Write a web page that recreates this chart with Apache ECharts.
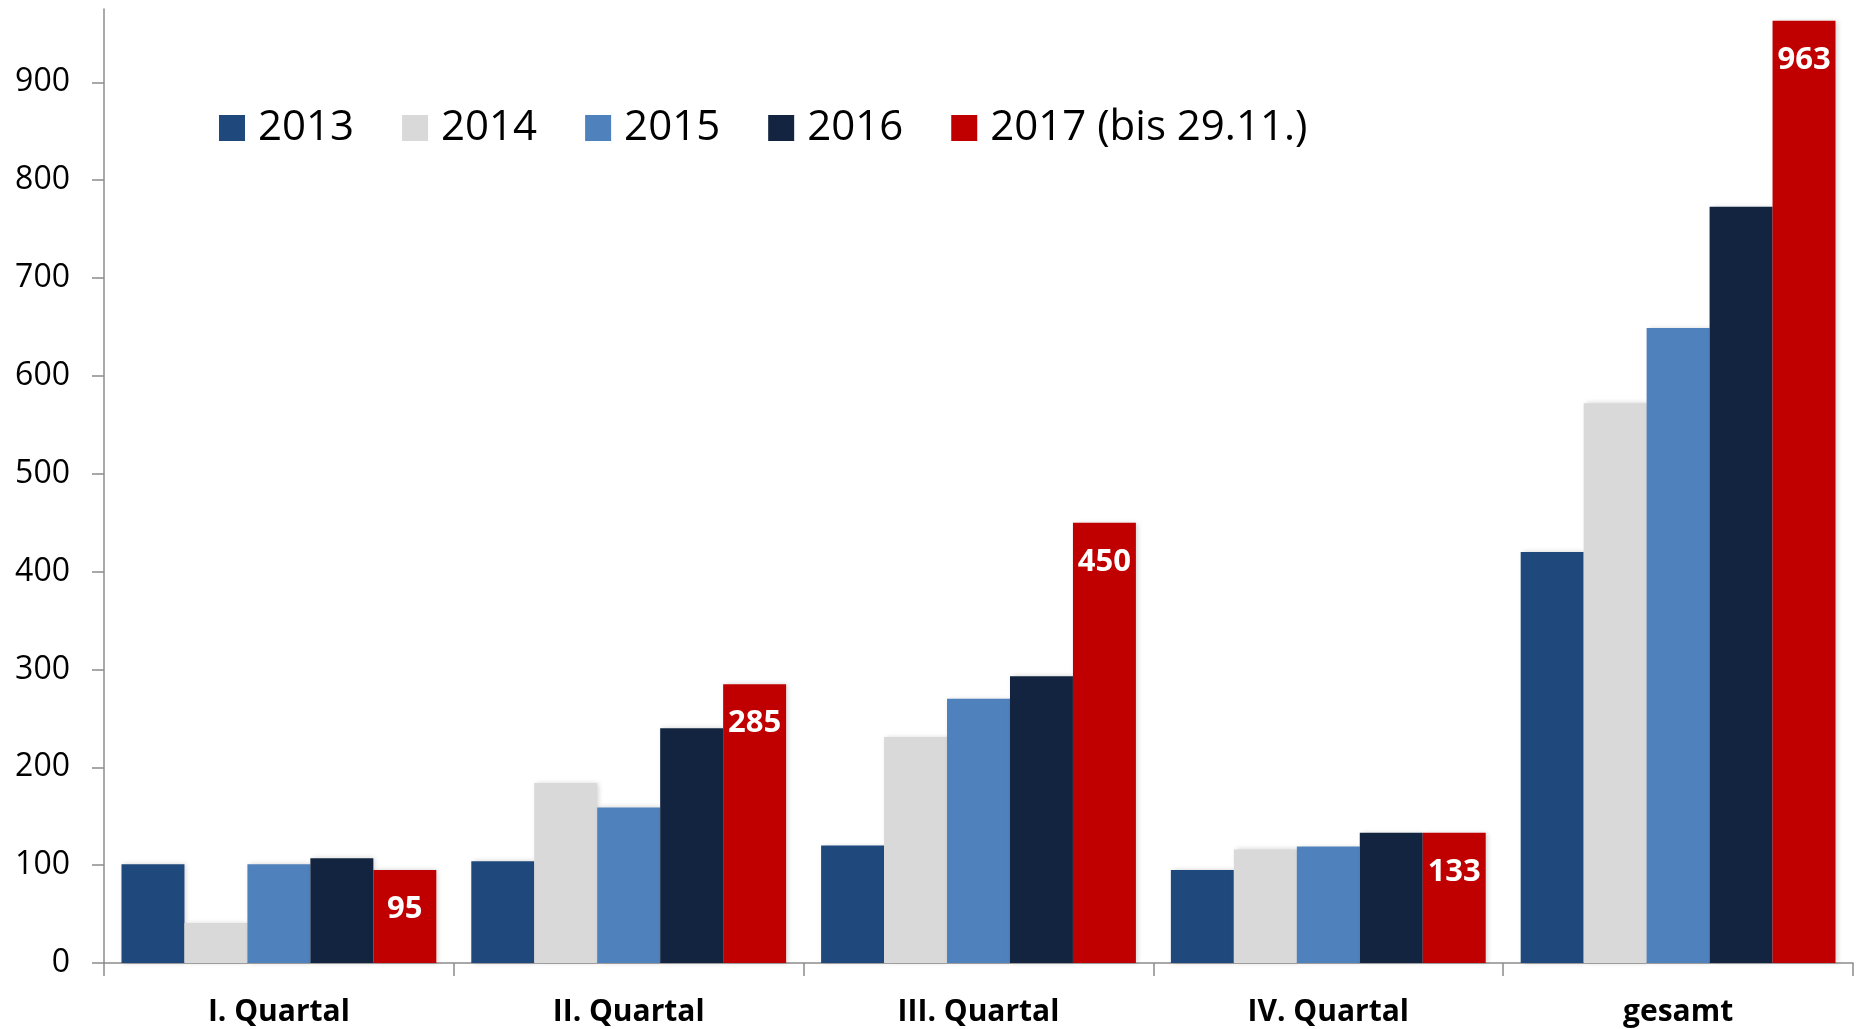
<!DOCTYPE html>
<html>
<head>
<meta charset="utf-8">
<script src="https://cdn.jsdelivr.net/npm/echarts@6/dist/echarts.min.js"></script>
<style>
  html, body { margin: 0; padding: 0; background: #fff; }
  #chart { width: 1858px; height: 1029px; }
</style>
</head>
<body>
<div id="chart"></div>
<script>
const categories = ['I. Quartal', 'II. Quartal', 'III. Quartal', 'IV. Quartal', 'gesamt']
const seriesNames = ['2013', '2014', '2015', '2016', '2017 (bis 29.11.)']
const values2013 = [101, 104, 120, 95, 420]
const values2014 = [41, 184, 231, 116, 572]
const values2015 = [101, 159, 270, 119, 649]
const values2016 = [107, 240, 293, 133, 773]
const values2017 = [95, 285, 450, 133, 963]
const yTicks = [0, 100, 200, 300, 400, 500, 600, 700, 800, 900]

const colors = ['#1F497D', '#D9D9D9', '#4F81BD', '#12243F', '#C00000']
const fontFamily = '"Open Sans", "Noto Sans", sans-serif'

const chart = echarts.init(document.getElementById('chart'))

const makeSeries = (name, data, color, withLabel) => ({
  name,
  type: 'bar',
  data,
  barGap: '0%',
  barCategoryGap: '10%',
  itemStyle: {
    color,
    shadowColor: 'rgba(0,0,0,0.18)',
    shadowBlur: 5,
    shadowOffsetX: 2,
  },
  label: {
    show: withLabel,
    position: 'insideTop',
    distance: 24,
    color: '#FFFFFF',
    fontFamily,
    fontWeight: 'bold',
    fontSize: 31,
  },
})

chart.setOption({
  animation: false,
  grid: {
    left: 104,
    right: 5,
    top: 9,
    bottom: 66,
  },
  legend: {
    left: 214,
    top: 102,
    itemWidth: 26,
    itemHeight: 26,
    itemGap: 48,
    icon: 'rect',
    textStyle: {
      fontFamily,
      fontSize: 42,
      color: '#000000',
      padding: [0, 0, 0, 8],
    },
    data: seriesNames,
  },
  xAxis: {
    type: 'category',
    data: categories,
    axisLine: { lineStyle: { color: '#8C8C8C', width: 1.5 } },
    axisTick: { show: true, length: 13, lineStyle: { color: '#8C8C8C', width: 1.5 } },
    axisLabel: {
      color: '#000000',
      fontFamily,
      fontWeight: 'bold',
      fontSize: 30,
      margin: 34,
    },
  },
  yAxis: {
    type: 'value',
    min: 0,
    max: 975,
    interval: 100,
    axisLine: { show: true, lineStyle: { color: '#8C8C8C', width: 1.5 } },
    axisTick: { show: true, length: 12, customValues: yTicks, lineStyle: { color: '#8C8C8C', width: 1.5 } },
    axisLabel: {
      customValues: yTicks,
      color: '#000000',
      fontFamily,
      fontSize: 32,
      margin: 34,
    },
    splitLine: { show: false },
  },
  series: [
    makeSeries(seriesNames[0], values2013, colors[0], false),
    makeSeries(seriesNames[1], values2014, colors[1], false),
    makeSeries(seriesNames[2], values2015, colors[2], false),
    makeSeries(seriesNames[3], values2016, colors[3], false),
    makeSeries(seriesNames[4], values2017, colors[4], true),
  ],
})
</script>
</body>
</html>
